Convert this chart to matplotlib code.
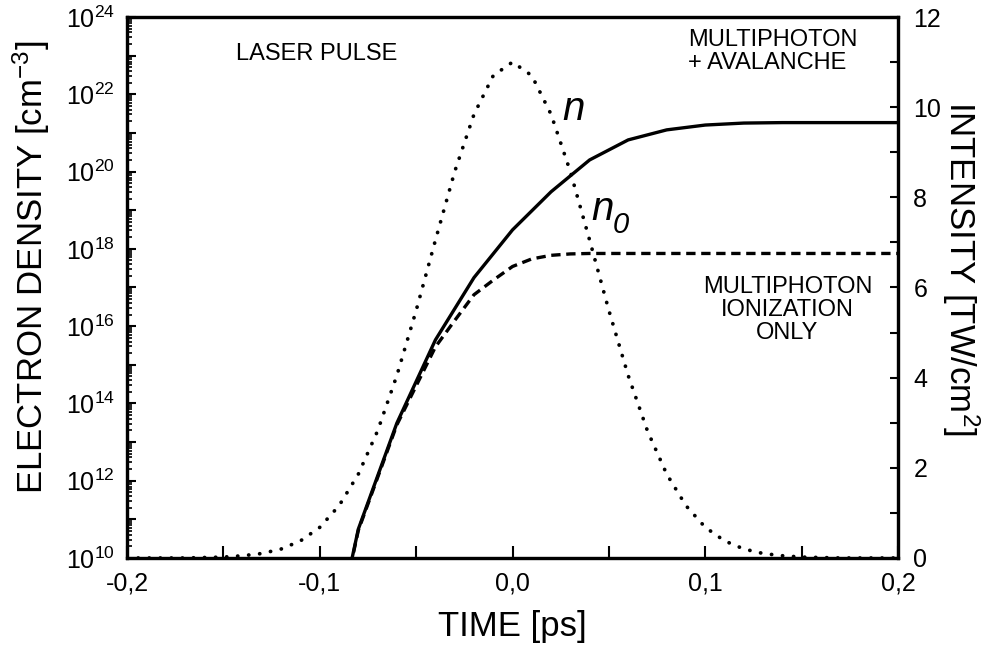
import matplotlib
matplotlib.use("Agg")
import matplotlib.pyplot as plt
from matplotlib.ticker import FixedLocator, FuncFormatter, LogLocator, NullFormatter
import numpy as np

plt.rcParams['font.family'] = ['Liberation Sans', 'DejaVu Sans']
plt.rcParams['mathtext.fontset'] = 'custom'
plt.rcParams['mathtext.rm'] = 'Liberation Sans'
plt.rcParams['mathtext.it'] = 'Liberation Sans:italic'

# --- data ---
# electron density with multiphoton + avalanche (n)
t_n = [-0.10, -0.08, -0.06, -0.04, -0.02, 0.00, 0.02, 0.04, 0.06, 0.08,
       0.10, 0.12, 0.14, 0.16, 0.18, 0.20]
n_total = [1.3e6, 5.6e10, 3.1e13, 4.4e15, 1.8e17, 3.1e18, 3.0e19, 2.0e20,
           6.6e20, 1.2e21, 1.6e21, 1.8e21, 1.85e21, 1.85e21, 1.85e21, 1.85e21]

# electron density, multiphoton ionization only (n0)
t_n0 = [-0.10, -0.08, -0.06, -0.04, -0.03, -0.02, -0.01, 0.00, 0.01, 0.02,
        0.03, 0.04, 0.06, 0.10, 0.15, 0.20]
n_mpi = [1.3e6, 5.2e10, 2.8e13, 2.9e15, 1.4e16, 6.5e16, 1.55e17, 3.5e17,
         5.5e17, 6.8e17, 7.4e17, 7.6e17, 7.6e17, 7.6e17, 7.6e17, 7.6e17]

# laser pulse intensity [TW/cm^2]
t_pulse = [-0.20, -0.19, -0.18, -0.17, -0.16, -0.15, -0.14, -0.13, -0.12, -0.11,
           -0.10, -0.09, -0.08, -0.07, -0.06, -0.05, -0.04, -0.03, -0.02, -0.01,
           0.00, 0.01, 0.02, 0.03, 0.04, 0.05, 0.06, 0.07, 0.08, 0.09,
           0.10, 0.11, 0.12, 0.13, 0.14, 0.15, 0.16, 0.17, 0.18, 0.19, 0.20]
intensity = [0.0, 0.0, 0.0, 0.0, 0.01, 0.02, 0.05, 0.10, 0.20, 0.38,
             0.68, 1.16, 1.86, 2.82, 4.05, 5.49, 7.05, 8.57, 9.84, 10.70,
             11.0, 10.70, 9.84, 8.57, 7.05, 5.49, 4.05, 2.82, 1.86, 1.16,
             0.68, 0.38, 0.20, 0.10, 0.05, 0.02, 0.01, 0.0, 0.0, 0.0, 0.0]

x_ticks = [-0.2, -0.1, 0.0, 0.1, 0.2]
x_ticklabels = ['-0,2', '-0,1', '0,0', '0,1', '0,2']
x_minor = [-0.15, -0.05, 0.05, 0.15]
right_ticks = [0, 2, 4, 6, 8, 10, 12]
right_minor = [1, 3, 5, 7, 9, 11]

# --- figure ---
fig = plt.figure(figsize=(9.98, 6.54), dpi=100)
ax = fig.add_axes([0.1273, 0.1468, 0.7725, 0.8272])
ax2 = ax.twinx()

ax.plot(t_n, n_total, color='black', lw=2.4, zorder=3)
ax.plot(t_n0, n_mpi, color='black', lw=2.4, linestyle=(0, (2.8, 1.7)), zorder=3)
ax2.plot(t_pulse, intensity, color='black', lw=2.7,
         linestyle=(0, (0.05, 2.9)), dash_capstyle='round', zorder=2)

ax.set_yscale('log')
ax.set_xlim(-0.2, 0.2)
ax.set_ylim(1e10, 1e24)
ax2.set_ylim(0, 12)

# left axis ticks
ax.yaxis.set_major_locator(LogLocator(base=10, numticks=30))
ax.yaxis.set_minor_locator(LogLocator(base=10, subs=np.arange(2, 10), numticks=30))
def fmt(v, pos):
    e = int(round(np.log10(v)))
    if e % 2 == 0:
        return r'$\mathregular{10^{%d}}$' % e
    return ''
ax.yaxis.set_major_formatter(FuncFormatter(fmt))
ax.yaxis.set_minor_formatter(NullFormatter())

ax.set_xticks(x_ticks)
ax.set_xticklabels(x_ticklabels)
ax.xaxis.set_minor_locator(FixedLocator(x_minor))

ax.tick_params(axis='y', which='major', direction='in', length=6.5, width=1.5,
               labelsize=18, right=False, pad=9)
ax.tick_params(axis='y', which='minor', direction='in', length=3.8, width=1.2,
               right=False)
ax.tick_params(axis='x', which='both', direction='in', length=8.5, width=1.5,
               top=False)
ax.tick_params(axis='x', which='major', labelsize=18, pad=10)

ax2.set_yticks(right_ticks)
ax2.yaxis.set_minor_locator(FixedLocator(right_minor))
ax2.tick_params(axis='y', which='both', direction='in', length=6, width=1.5,
                labelsize=18, pad=11)

for a in (ax, ax2):
    for s in a.spines.values():
        s.set_linewidth(2.3)

ax.set_xlabel('TIME [ps]', fontsize=25, va='top')
ax.xaxis.set_label_coords(0.5, -0.097)
ax.set_ylabel(r'ELECTRON DENSITY [cm$\mathregular{^{-3}}$]', fontsize=25,
              va='center', ha='center')
ax.yaxis.set_label_coords(-0.124, 0.538)
ax2.set_ylabel(r'INTENSITY [TW/cm$\mathregular{^{2}}$]', fontsize=25,
               rotation=270, va='center', ha='center')
ax2.yaxis.set_label_coords(1.0817, 0.536)

# annotations
xt = ax.get_xaxis_transform()
ax.text(-0.1014, 0.9325, 'LASER PULSE', transform=xt,
        ha='center', va='center', fontsize=17)
ax.text(0.0911, 0.936, 'MULTIPHOTON\n+ AVALANCHE', transform=xt,
        ha='left', va='center', fontsize=17, multialignment='left', linespacing=1.05)
ax.text(0.1427, 0.459, 'MULTIPHOTON\nIONIZATION\nONLY', transform=xt,
        ha='center', va='center', fontsize=17, multialignment='center', linespacing=1.05)
ax.text(0.0258, 0.8096, 'n', transform=xt, ha='left', va='baseline',
        fontsize=29, fontstyle='italic')
ax.text(0.0411, 0.6248, 'n', transform=xt, ha='left', va='baseline',
        fontsize=29, fontstyle='italic')
ax.text(0.0522, 0.6007, '0', transform=xt, ha='left', va='baseline',
        fontsize=21, fontstyle='italic')

fig.savefig('out.png', dpi=100)
